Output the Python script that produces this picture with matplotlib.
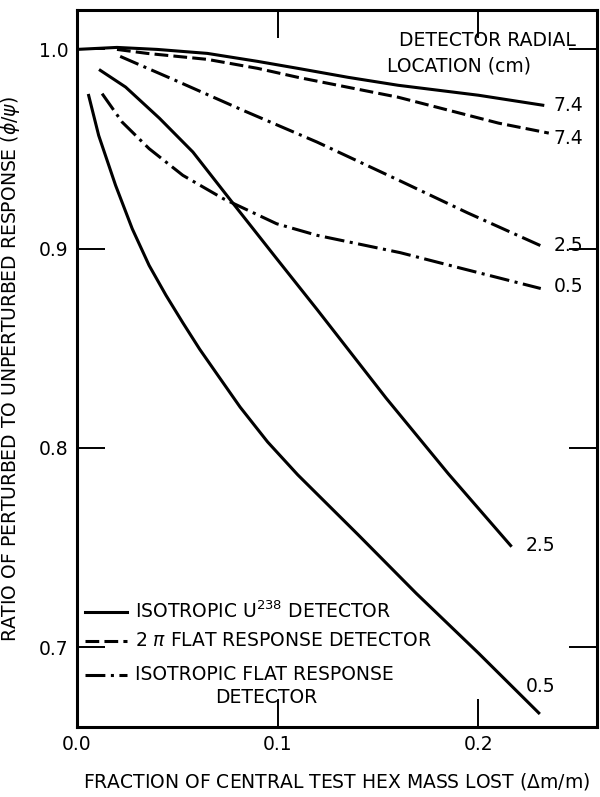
import numpy as np
import matplotlib.pyplot as plt

plt.rcParams['font.family'] = ['DejaVu Sans']

########################### Data ###########################

# isotropic U238 detector (solid)
x_u_74 = [0.0, 0.01, 0.02, 0.04, 0.065, 0.09, 0.11, 0.135, 0.16, 0.2, 0.232]
y_u_74 = [1.0, 1.0005, 1.001, 1.0, 0.998, 0.994, 0.9905, 0.986, 0.982, 0.977, 0.972]
x_u_25 = [0.0117, 0.0243, 0.0411, 0.0578, 0.0779, 0.0995, 0.1196, 0.154, 0.185, 0.216]
y_u_25 = [0.9895, 0.9811, 0.9655, 0.9485, 0.9226, 0.895, 0.8695, 0.825, 0.787, 0.751]
x_u_05 = [0.0059, 0.0109, 0.0193, 0.0276, 0.036, 0.0444, 0.0528, 0.0612, 0.0695, 0.0813,
          0.095, 0.11, 0.14, 0.169, 0.2, 0.23]
y_u_05 = [0.9769, 0.9568, 0.9318, 0.9100, 0.8916, 0.8766, 0.8628, 0.8495, 0.8375, 0.8205,
          0.8030, 0.7865, 0.7565, 0.727, 0.697, 0.667]

# 2 pi flat response detector (dashed)
x_f_74 = [0.02, 0.035, 0.065, 0.09, 0.11, 0.135, 0.16, 0.21, 0.235]
y_f_74 = [1.0, 0.998, 0.995, 0.9905, 0.986, 0.981, 0.976, 0.963, 0.958]

# isotropic flat response detector (dash-dot)
x_i_25 = [0.0216, 0.0492, 0.0828, 0.1196, 0.161, 0.1945, 0.2327]
y_i_25 = [0.9965, 0.9844, 0.9694, 0.9535, 0.934, 0.918, 0.9007]
x_i_05 = [0.0126, 0.0226, 0.036, 0.0528, 0.0729, 0.0995, 0.1196, 0.161, 0.19, 0.231]
y_i_05 = [0.9778, 0.9635, 0.9502, 0.9368, 0.9251, 0.9125, 0.9067, 0.898, 0.8905, 0.880]

# end labels (detector radial location, cm)
end_labels = ['7.4', '7.4', '2.5', '0.5', '2.5', '0.5']
label_x = [0.2375, 0.2375, 0.2375, 0.2375, 0.2235, 0.2235]
label_y = [0.972, 0.9555, 0.9015, 0.881, 0.751, 0.6805]

########################### Plot ###############################################

lw = 2.2
dash = (0, (4.5, 1.7))
dashdot = (0, (6.5, 1.8, 1, 1.8))
fs = 13.5

fig = plt.figure(figsize=(6.0, 7.97), dpi=100)
ax = fig.add_axes([0.128, 0.088, 0.867, 0.899])

ax.plot(x_u_74, y_u_74, '-', color='black', lw=lw)
ax.plot(x_u_25, y_u_25, '-', color='black', lw=lw)
ax.plot(x_u_05, y_u_05, '-', color='black', lw=lw)
ax.plot(x_f_74, y_f_74, color='black', lw=lw, linestyle=dash)
ax.plot(x_i_25, y_i_25, color='black', lw=lw, linestyle=dashdot)
ax.plot(x_i_05, y_i_05, color='black', lw=lw, linestyle=dashdot)

for t, xx, yy in zip(end_labels, label_x, label_y):
    ax.text(xx, yy, t, fontsize=fs, va='center', ha='left')

ax.text(0.1605, 1.0045, 'DETECTOR RADIAL', fontsize=fs, va='center', ha='left')
ax.text(0.1545, 0.9915, 'LOCATION (cm)', fontsize=fs, va='center', ha='left')

# legend drawn by hand, like in the original figure
leg_styles = ['-', dash, dashdot]
leg_texts = [r'ISOTROPIC U$^{238}$ DETECTOR', r'2 $\pi$ FLAT RESPONSE DETECTOR', 'ISOTROPIC FLAT RESPONSE']
leg_y = [0.7178, 0.7032, 0.6862]
for st, t, yy in zip(leg_styles, leg_texts, leg_y):
    ax.plot([0.004, 0.025], [yy, yy], color='black', lw=lw, linestyle=st)
    ax.text(0.029, yy, t, fontsize=fs, va='center', ha='left')
ax.text(0.069, 0.6745, 'DETECTOR', fontsize=fs, va='center', ha='left')

ax.set_xlim(0.0, 0.259)
ax.set_ylim(0.66, 1.0196)
ax.set_xticks([0.0, 0.1, 0.2])
ax.set_xticklabels(['0.0', '0.1', '0.2'])
ax.set_yticks([0.7, 0.8, 0.9, 1.0])
ax.set_yticklabels(['0.7', '0.8', '0.9', '1.0'])
ax.tick_params(direction='in', length=20, width=1.4, labelsize=fs,
               top=True, right=True, pad=6)
for s in ax.spines.values():
    s.set_linewidth(2.2)

ax.set_xlabel(r'FRACTION OF CENTRAL TEST HEX MASS LOST ($\Delta$m/m)', fontsize=fs, labelpad=12)
ax.set_ylabel(r'RATIO OF PERTURBED TO UNPERTURBED RESPONSE ($\phi/\psi$)', fontsize=fs, labelpad=12)

plt.savefig('out.png', dpi=100)
